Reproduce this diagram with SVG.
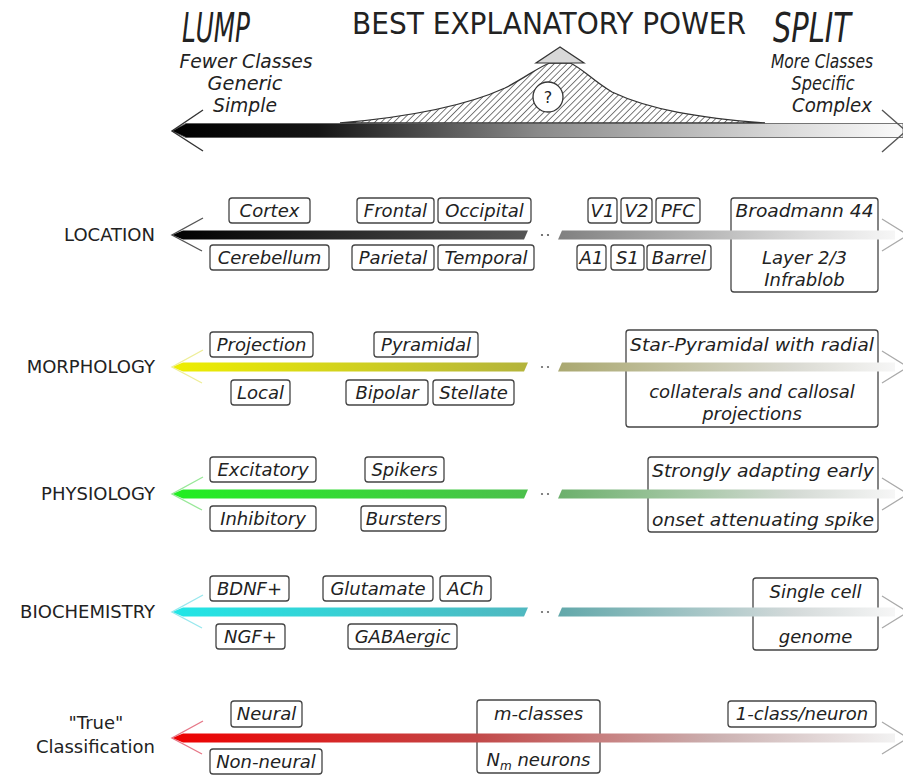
<svg xmlns="http://www.w3.org/2000/svg" width="903" height="775" viewBox="0 0 903 775">
<style>
.bx{fill:#fff;stroke:#444;stroke-width:1.3}
.bt{font-family:"DejaVu Sans","Liberation Sans",sans-serif;font-style:italic;font-size:18px;fill:#222;text-anchor:middle}
.lb{font-family:"DejaVu Sans","Liberation Sans",sans-serif;font-size:18px;fill:#222;text-anchor:end}
.hd{font-family:"DejaVu Sans Condensed","Liberation Sans Narrow","DejaVu Sans",sans-serif;fill:#222}
.hi{font-family:"DejaVu Sans Condensed","Liberation Sans Narrow","DejaVu Sans",sans-serif;font-style:italic;fill:#222;text-anchor:middle}
.ah{fill:none;stroke-width:1.4}
.rh{fill:none;stroke:#aaa;stroke-width:1.3}
</style>
<defs>
<pattern id="hatch" width="4.5" height="4.5" patternUnits="userSpaceOnUse" patternTransform="rotate(45)">
<line x1="0" y1="0" x2="0" y2="4.5" stroke="#333" stroke-width="1.3"/>
</pattern>
<linearGradient id="gTop" gradientUnits="userSpaceOnUse" x1="172" y1="0" x2="903" y2="0">
<stop offset="0" stop-color="#000"/><stop offset="0.2" stop-color="#151515"/><stop offset="0.5" stop-color="#8a8a8a"/><stop offset="0.85" stop-color="#dcdcdc"/><stop offset="1" stop-color="#fafafa"/>
</linearGradient>
<linearGradient id="gLoc" gradientUnits="userSpaceOnUse" x1="172" y1="0" x2="895" y2="0">
<stop offset="0" stop-color="#000"/><stop offset="0.49" stop-color="#555"/><stop offset="0.534" stop-color="#808080"/><stop offset="0.88" stop-color="#ddd"/><stop offset="1" stop-color="#f6f6f6"/>
</linearGradient>
<linearGradient id="gMor" gradientUnits="userSpaceOnUse" x1="172" y1="0" x2="895" y2="0">
<stop offset="0" stop-color="#eeee00"/><stop offset="0.49" stop-color="#b4b43c"/><stop offset="0.534" stop-color="#aaa870"/><stop offset="0.86" stop-color="#dadad2"/><stop offset="1" stop-color="#f6f6f6"/>
</linearGradient>
<linearGradient id="gPhy" gradientUnits="userSpaceOnUse" x1="172" y1="0" x2="895" y2="0">
<stop offset="0" stop-color="#22ee22"/><stop offset="0.49" stop-color="#4cc04c"/><stop offset="0.534" stop-color="#6cb06c"/><stop offset="0.86" stop-color="#d4dad4"/><stop offset="1" stop-color="#f6f6f6"/>
</linearGradient>
<linearGradient id="gBio" gradientUnits="userSpaceOnUse" x1="172" y1="0" x2="895" y2="0">
<stop offset="0" stop-color="#22e6e6"/><stop offset="0.49" stop-color="#50b8c0"/><stop offset="0.534" stop-color="#62a8aa"/><stop offset="0.86" stop-color="#d4dada"/><stop offset="1" stop-color="#f6f6f6"/>
</linearGradient>
<linearGradient id="gTru" gradientUnits="userSpaceOnUse" x1="172" y1="0" x2="895" y2="0">
<stop offset="0" stop-color="#ee0000"/><stop offset="0.42" stop-color="#c24848"/><stop offset="0.75" stop-color="#cbb0b0"/><stop offset="1" stop-color="#f2f2f2"/>
</linearGradient>
</defs>
<rect width="903" height="775" fill="#fff"/>

<g id="header">
<text class="hi" x="216" y="42" font-size="40" textLength="68" lengthAdjust="spacingAndGlyphs">LUMP</text>
<text class="hd" x="352" y="34" font-size="30" textLength="394" lengthAdjust="spacingAndGlyphs">BEST EXPLANATORY POWER</text>
<text class="hi" x="812" y="42" font-size="40" textLength="78" lengthAdjust="spacingAndGlyphs">SPLIT</text>
<text class="hi" x="246" y="68" font-size="20" textLength="133" lengthAdjust="spacingAndGlyphs">Fewer Classes</text>
<text class="hi" x="245" y="90" font-size="20" textLength="75" lengthAdjust="spacingAndGlyphs">Generic</text>
<text class="hi" x="245" y="112" font-size="20" textLength="64" lengthAdjust="spacingAndGlyphs">Simple</text>
<text class="hi" x="822" y="68" font-size="20" textLength="102" lengthAdjust="spacingAndGlyphs">More Classes</text>
<text class="hi" x="823" y="90" font-size="20" textLength="63" lengthAdjust="spacingAndGlyphs">Specific</text>
<text class="hi" x="832" y="112" font-size="20" textLength="80" lengthAdjust="spacingAndGlyphs">Complex</text>
</g>

<g id="peak">
<path d="M340,123 C420,116 470,104 505,88 C525,78 540,66 550,63 L570,63 C582,68 592,80 612,92 C650,110 700,118 765,123 Z" fill="url(#hatch)" stroke="#333" stroke-width="1.3"/>
<polygon points="560,47 536,63 584,63" fill="#d8d8d8" stroke="#333" stroke-width="1.2"/>
<circle cx="548" cy="97" r="15" fill="#fff" stroke="#333" stroke-width="1.3"/>
<text x="548" y="103" font-family="DejaVu Sans, sans-serif" font-size="16" fill="#222" text-anchor="middle">?</text>
</g>

<g id="labels">
<text class="lb" x="155" y="241">LOCATION</text>
<text class="lb" x="155" y="373">MORPHOLOGY</text>
<text class="lb" x="155" y="500">PHYSIOLOGY</text>
<text class="lb" x="155" y="618">BIOCHEMISTRY</text>
<text x="96" y="729" font-family="DejaVu Sans, sans-serif" font-size="18" fill="#222" text-anchor="middle">"True"</text>
<text class="lb" x="155" y="753">Classification</text>
</g>

<g id="location">
<rect class="bx" x="229" y="198" width="81" height="25" rx="3"/><text class="bt" x="269.5" y="217">Cortex</text>
<rect class="bx" x="357" y="198" width="77" height="25" rx="3"/><text class="bt" x="395.5" y="217">Frontal</text>
<rect class="bx" x="438" y="198" width="93" height="25" rx="3"/><text class="bt" x="484.5" y="217">Occipital</text>
<rect class="bx" x="210" y="245" width="119" height="25" rx="3"/><text class="bt" x="269.5" y="264">Cerebellum</text>
<rect class="bx" x="352" y="245" width="82" height="25" rx="3"/><text class="bt" x="393" y="264">Parietal</text>
<rect class="bx" x="438" y="245" width="96" height="25" rx="3"/><text class="bt" x="486" y="264">Temporal</text>
<rect class="bx" x="588" y="198" width="29" height="25" rx="3"/><text class="bt" x="602.5" y="217">V1</text>
<rect class="bx" x="621" y="198" width="31" height="25" rx="3"/><text class="bt" x="636.5" y="217">V2</text>
<rect class="bx" x="656" y="198" width="44" height="25" rx="3"/><text class="bt" x="678" y="217">PFC</text>
<rect class="bx" x="577" y="245" width="29" height="25" rx="3"/><text class="bt" x="591.5" y="264">A1</text>
<rect class="bx" x="611" y="245" width="33" height="25" rx="3"/><text class="bt" x="627.5" y="264">S1</text>
<rect class="bx" x="647" y="245" width="64" height="25" rx="3"/><text class="bt" x="679" y="264">Barrel</text>
<rect class="bx" x="731" y="198" width="147" height="94" rx="3"/>
<text class="bt" x="804.5" y="217" textLength="138" lengthAdjust="spacingAndGlyphs">Broadmann 44</text>
<text class="bt" x="804.5" y="264">Layer 2/3</text>
<text class="bt" x="804.5" y="286">Infrablob</text>
</g>

<g id="morphology">
<rect class="bx" x="210" y="332" width="103" height="25" rx="3"/><text class="bt" x="261.5" y="351">Projection</text>
<rect class="bx" x="374" y="332" width="104" height="25" rx="3"/><text class="bt" x="426" y="351">Pyramidal</text>
<rect class="bx" x="231" y="380" width="59" height="25" rx="3"/><text class="bt" x="260.5" y="399">Local</text>
<rect class="bx" x="346" y="380" width="82" height="25" rx="3"/><text class="bt" x="387" y="399">Bipolar</text>
<rect class="bx" x="433" y="380" width="81" height="25" rx="3"/><text class="bt" x="473.5" y="399">Stellate</text>
<rect class="bx" x="626" y="330" width="252" height="97" rx="3"/>
<text class="bt" x="752" y="351" textLength="244" lengthAdjust="spacingAndGlyphs">Star-Pyramidal with radial</text>
<text class="bt" x="752" y="398">collaterals and callosal</text>
<text class="bt" x="752" y="420">projections</text>
</g>

<g id="physiology">
<rect class="bx" x="210" y="457" width="106" height="25" rx="3"/><text class="bt" x="263" y="476">Excitatory</text>
<rect class="bx" x="365" y="457" width="79" height="25" rx="3"/><text class="bt" x="404.5" y="476">Spikers</text>
<rect class="bx" x="210" y="506" width="106" height="25" rx="3"/><text class="bt" x="263" y="525">Inhibitory</text>
<rect class="bx" x="361" y="506" width="85" height="25" rx="3"/><text class="bt" x="403.5" y="525">Bursters</text>
<rect class="bx" x="648" y="457" width="230" height="75" rx="3"/>
<text class="bt" x="763" y="477" textLength="222" lengthAdjust="spacingAndGlyphs">Strongly adapting early</text>
<text class="bt" x="763" y="526" textLength="222" lengthAdjust="spacingAndGlyphs">onset attenuating spike</text>
</g>

<g id="biochemistry">
<rect class="bx" x="210" y="576" width="79" height="25" rx="3"/><text class="bt" x="249.5" y="595">BDNF+</text>
<rect class="bx" x="323" y="576" width="110" height="25" rx="3"/><text class="bt" x="378" y="595">Glutamate</text>
<rect class="bx" x="440" y="576" width="51" height="25" rx="3"/><text class="bt" x="465.5" y="595">ACh</text>
<rect class="bx" x="216" y="624" width="69" height="25" rx="3"/><text class="bt" x="250.5" y="643">NGF+</text>
<rect class="bx" x="348" y="624" width="109" height="25" rx="3"/><text class="bt" x="402.5" y="643">GABAergic</text>
<rect class="bx" x="753" y="578" width="125" height="72" rx="3"/>
<text class="bt" x="815.5" y="598">Single cell</text>
<text class="bt" x="815.5" y="643">genome</text>
</g>

<g id="trueclass">
<rect class="bx" x="231" y="701" width="71" height="26" rx="3"/><text class="bt" x="266.5" y="720">Neural</text>
<rect class="bx" x="210" y="749" width="112" height="25" rx="3"/><text class="bt" x="266" y="768">Non-neural</text>
<rect class="bx" x="477" y="700" width="123" height="73" rx="3"/>
<text class="bt" x="538.5" y="720">m-classes</text>
<text class="bt" x="538.5" y="766">N<tspan font-size="12" dy="4">m</tspan><tspan dy="-4"> neurons</tspan></text>
<rect class="bx" x="728" y="701" width="148" height="26" rx="3"/><text class="bt" x="802" y="720">1-class/neuron</text>
</g>

<g id="connectors">
<polygon points="172,131 186,123.5 903,123.5 903,137.5 186,137.5" fill="url(#gTop)" stroke="#555" stroke-width="0.8"/>
<polyline class="ah" points="203,110 172,131 203,151" stroke="#333"/>
<polyline class="ah" points="882,110 906,131 882,152" stroke="#555"/>

<polygon points="172,235 183,230.5 528,230.5 524,239.5 183,239.5" fill="url(#gLoc)"/>
<polygon points="562,230.5 895,230.5 895,239.5 558,239.5" fill="url(#gLoc)"/>
<circle cx="542" cy="235" r="1.1" fill="#555"/><circle cx="548" cy="235" r="1.1" fill="#555"/>
<polyline class="ah" points="203,218 172,235 202,251" stroke="#555"/>
<polyline class="rh" points="882,219 908,235 882,251"/>

<polygon points="172,367 183,362.5 528,362.5 524,371.5 183,371.5" fill="url(#gMor)"/>
<polygon points="562,362.5 895,362.5 895,371.5 558,371.5" fill="url(#gMor)"/>
<circle cx="542" cy="367" r="1.1" fill="#666"/><circle cx="548" cy="367" r="1.1" fill="#666"/>
<polyline class="ah" points="203,350 172,367 202,383" stroke="#eeee99"/>
<polyline class="rh" points="882,351 908,367 882,383"/>

<polygon points="172,494 183,489.5 528,489.5 524,498.5 183,498.5" fill="url(#gPhy)"/>
<polygon points="562,489.5 895,489.5 895,498.5 558,498.5" fill="url(#gPhy)"/>
<circle cx="542" cy="494" r="1.1" fill="#666"/><circle cx="548" cy="494" r="1.1" fill="#666"/>
<polyline class="ah" points="203,477 172,494 202,510" stroke="#99e899"/>
<polyline class="rh" points="882,478 908,494 882,510"/>

<polygon points="172,612 183,607.5 528,607.5 524,616.5 183,616.5" fill="url(#gBio)"/>
<polygon points="562,607.5 895,607.5 895,616.5 558,616.5" fill="url(#gBio)"/>
<circle cx="542" cy="612" r="1.1" fill="#666"/><circle cx="548" cy="612" r="1.1" fill="#666"/>
<polyline class="ah" points="203,595 172,612 202,628" stroke="#99e8ee"/>
<polyline class="rh" points="882,596 908,612 882,628"/>

<polygon points="172,738 183,733.5 895,733.5 895,742.5 183,742.5" fill="url(#gTru)"/>
<polyline class="ah" points="203,721 172,738 202,754" stroke="#e67888"/>
<polyline class="rh" points="882,722 908,738 882,754"/>
</g>
</svg>
